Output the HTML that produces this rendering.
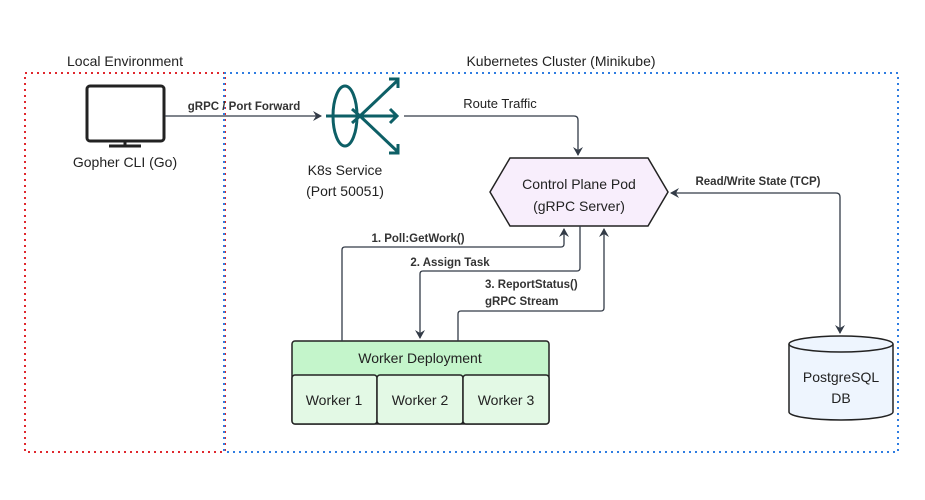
<!DOCTYPE html>
<html><head><meta charset="utf-8"><style>
html,body{margin:0;padding:0;background:#fff;}
svg{display:block;font-family:"Liberation Sans",sans-serif;}
</style></head><body>
<svg width="925" height="500" viewBox="0 0 925 500" xmlns="http://www.w3.org/2000/svg">
<defs>
<marker id="a" markerWidth="10" markerHeight="10" refX="8" refY="5" orient="auto-start-reverse" markerUnits="userSpaceOnUse">
<path d="M0,0 L9,5 L0,10 L3,5 Z" fill="#333b47"/></marker>
</defs>
<rect x="25" y="73" width="200" height="379" fill="none" stroke="#e0282e" stroke-width="2" stroke-dasharray="2,4"/>
<rect x="224" y="73" width="674" height="379" fill="none" stroke="#2f7de1" stroke-width="2" stroke-dasharray="2,4"/>
<text x="125" y="66" font-size="14" text-anchor="middle" fill="#222">Local Environment</text>
<text x="561" y="66" font-size="14" text-anchor="middle" fill="#222">Kubernetes Cluster (Minikube)</text>
<!-- monitor -->
<rect x="87" y="86" width="77" height="55" rx="3" fill="none" stroke="#222" stroke-width="3"/>
<line x1="125" y1="141" x2="125" y2="145" stroke="#222" stroke-width="3"/>
<line x1="109" y1="146" x2="141" y2="146" stroke="#222" stroke-width="3"/>
<text x="125" y="167" font-size="14" text-anchor="middle" fill="#222">Gopher CLI (Go)</text>
<line x1="165" y1="116" x2="321" y2="116" stroke="#333b47" stroke-width="1.3" marker-end="url(#a)"/>
<text x="244" y="110" font-size="11.5" font-weight="bold" text-anchor="middle" fill="#333">gRPC / Port Forward</text>
<!-- k8s icon -->
<g stroke="#0d5f66" stroke-width="3" fill="none">
<ellipse cx="345" cy="116" rx="12" ry="30"/>
<line x1="326" y1="116" x2="360" y2="116"/><path d="M352,109 L360,116 L352,123"/>
<line x1="360" y1="116" x2="397" y2="116"/><path d="M390,109 L397,116 L390,123"/>
<line x1="360" y1="116" x2="398" y2="80"/><path d="M389,79 L398,79 L398,88"/>
<line x1="360" y1="116" x2="398" y2="152"/><path d="M389,153 L398,153 L398,144"/>
</g>
<text x="345" y="175" font-size="14" text-anchor="middle" fill="#222">K8s Service</text>
<text x="345" y="196" font-size="14" text-anchor="middle" fill="#222">(Port 50051)</text>
<path d="M404,116 L574,116 Q578,116 578,120 L578,155" fill="none" stroke="#333b47" stroke-width="1.3" marker-end="url(#a)"/>
<text x="500" y="108" font-size="13" text-anchor="middle" fill="#222">Route Traffic</text>
<!-- hexagon -->
<polygon points="490,192 510,158 648,158 668,192 648,226 510,226" fill="#f8eefc" stroke="#222" stroke-width="1.5"/>
<text x="579" y="189" font-size="14" text-anchor="middle" fill="#222">Control Plane Pod</text>
<text x="579" y="211" font-size="14" text-anchor="middle" fill="#222">(gRPC Server)</text>
<!-- read/write -->
<path d="M840,333 L840,197 Q840,193 836,193 L671,193" fill="none" stroke="#333b47" stroke-width="1.3" marker-start="url(#a)" marker-end="url(#a)"/>
<text x="758" y="185" font-size="11.5" font-weight="bold" text-anchor="middle" fill="#333">Read/Write State (TCP)</text>
<!-- DB -->
<path d="M789,344 L789,412 A52,8 0 0 0 893,412 L893,344" fill="#eef5fe" stroke="#222" stroke-width="1.5"/>
<ellipse cx="841" cy="344" rx="52" ry="8" fill="#eef5fe" stroke="#222" stroke-width="1.5"/>
<text x="841" y="382" font-size="14" text-anchor="middle" fill="#222">PostgreSQL</text>
<text x="841" y="403" font-size="14" text-anchor="middle" fill="#222">DB</text>
<!-- workers -->
<rect x="292" y="341" width="257" height="83" rx="3" fill="#c4f5cb" stroke="#222" stroke-width="1.5"/>
<rect x="292" y="375" width="85" height="49" rx="3" fill="#e3f9e5" stroke="#222" stroke-width="1.5"/>
<rect x="377" y="375" width="86" height="49" rx="3" fill="#e3f9e5" stroke="#222" stroke-width="1.5"/>
<rect x="463" y="375" width="86" height="49" rx="3" fill="#e3f9e5" stroke="#222" stroke-width="1.5"/>
<text x="420" y="363" font-size="14" text-anchor="middle" fill="#222">Worker Deployment</text>
<text x="334" y="405" font-size="14" text-anchor="middle" fill="#222">Worker 1</text>
<text x="420" y="405" font-size="14" text-anchor="middle" fill="#222">Worker 2</text>
<text x="506" y="405" font-size="14" text-anchor="middle" fill="#222">Worker 3</text>
<!-- connectors -->
<path d="M342,341 L342,250 Q342,247 345,247 L561,247 Q564,247 564,244 L564,229" fill="none" stroke="#333b47" stroke-width="1.3" marker-end="url(#a)"/>
<text x="418" y="242" font-size="11.5" font-weight="bold" text-anchor="middle" fill="#333">1. Poll:GetWork()</text>
<path d="M580,226 L580,268 Q580,271 577,271 L423,271 Q420,271 420,274 L420,338" fill="none" stroke="#333b47" stroke-width="1.3" marker-end="url(#a)"/>
<text x="450" y="266" font-size="11.5" font-weight="bold" text-anchor="middle" fill="#333">2. Assign Task</text>
<path d="M458,341 L458,314 Q458,311 461,311 L601,311 Q604,311 604,308 L604,229" fill="none" stroke="#333b47" stroke-width="1.3" marker-end="url(#a)"/>
<text x="485" y="288" font-size="11.5" font-weight="bold" fill="#333">3. ReportStatus()</text>
<text x="485" y="305" font-size="11.5" font-weight="bold" fill="#333">gRPC Stream</text>
</svg>
</body></html>
